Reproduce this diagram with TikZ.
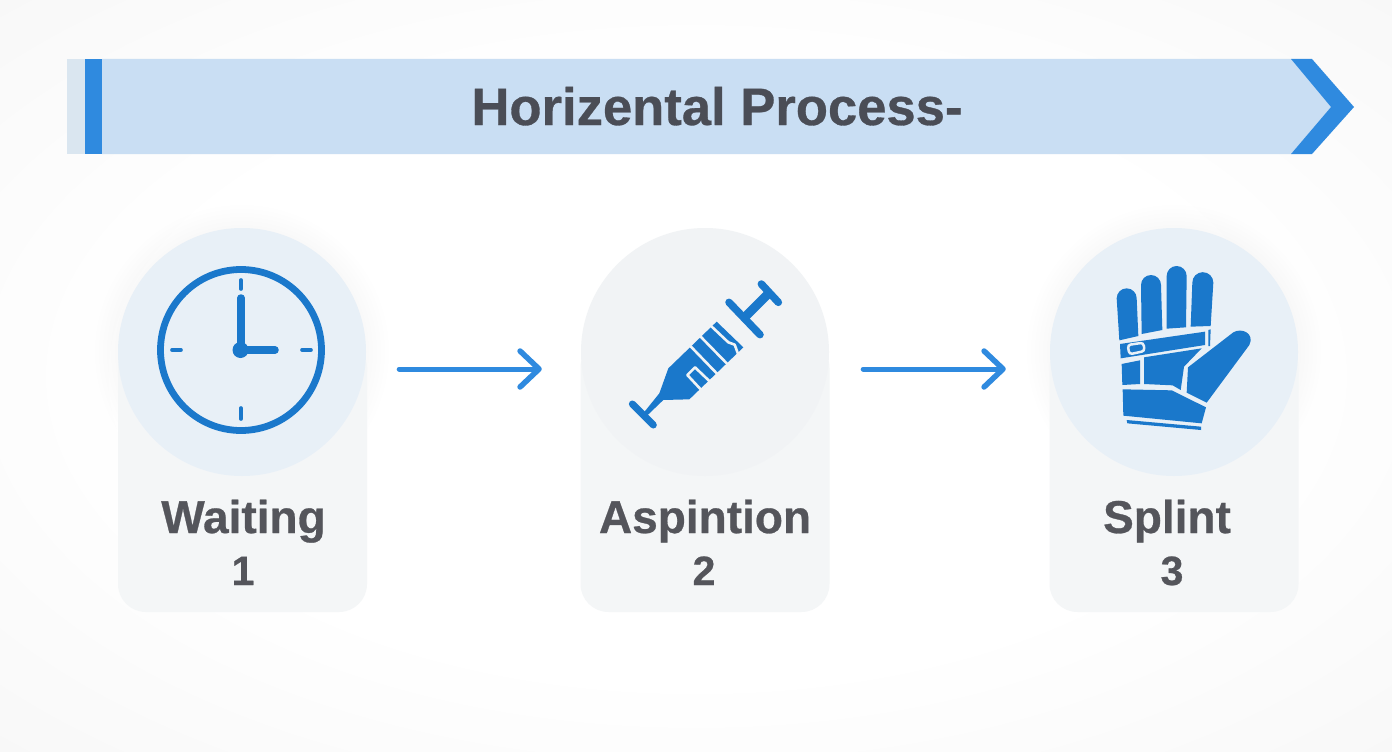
\documentclass[tikz,border=0pt]{standalone}
\usepackage{fontspec}
\setmainfont{Liberation Sans}[BoldFeatures={FakeBold=0.6}]
\usetikzlibrary{arrows.meta}
\definecolor{iconblue}{HTML}{1A78CB}
\definecolor{barblue}{HTML}{2F8ADF}
\definecolor{bannerfill}{HTML}{C9DEF3}
\definecolor{bannerpale}{HTML}{DAE6F0}
\definecolor{titleink}{HTML}{4A4D56}
\definecolor{labelink}{HTML}{54555B}
\definecolor{cardfill}{HTML}{F4F6F7}
\definecolor{discblue}{HTML}{E8F0F7}
\definecolor{discgrey}{HTML}{F1F3F5}
\pgfdeclareradialshading{bgsoft}{\pgfpoint{0bp}{0bp}}{rgb(0bp)=(1,1,1);rgb(20bp)=(1,1,1);rgb(36bp)=(0.972,0.972,0.972);rgb(50bp)=(0.965,0.965,0.965)}
\tikzset{
  x=1pt,y=-1pt,
  cardbox/.style={draw=none,fill=cardfill,rounded corners=28pt,minimum width=249pt,minimum height=272pt,inner sep=0pt},
  disc/.style={circle,draw=none,minimum size=248pt,inner sep=0pt},
  steptext/.style={anchor=base,font=\bfseries\fontsize{46}{50}\selectfont,text=labelink,inner sep=0pt},
  stepnum/.style={anchor=base,font=\bfseries\fontsize{41}{50}\selectfont,text=labelink,inner sep=0pt},
  flow/.style={draw=barblue,line width=5pt,line cap=round,-{Straight Barb[length=19pt,width=36pt,line width=5.5pt,round]}},
  iconline/.style={draw=iconblue,line cap=round},
  zoomed/.style={x=0.33333pt,y=-0.33333pt},
}
\begin{document}
\begin{tikzpicture}
\useasboundingbox (0,0) rectangle (1392,752);
\shade[shading=bgsoft] (0,0) rectangle (1392,752);
% banner
\fill[bannerpale] (67,59) rectangle (85,154);
\fill[bannerfill] (102,59) -- (1291,59) -- (1331,107) -- (1291,154) -- (102,154) -- cycle;
\fill[barblue] (85,59) rectangle (102,154);
\fill[barblue] (1291,59) -- (1312,59) -- (1354,107) -- (1312,154) -- (1291,154) -- (1331,107) -- cycle;
\node[anchor=base,inner sep=0pt,text=titleink,font=\bfseries\fontsize{52.6}{60}\selectfont] (title) at (717,125) {Horizental Process-};
% faint halos
\foreach \hx in {242,1174}{
  \foreach \hr in {127,131,...,147}{
    \fill[black,opacity=.0025] (\hx,352) circle (\hr);
  }
}
% cards
\node[cardbox] (card1) at (242.5,476) {};
\node[cardbox] (card2) at (705,476) {};
\node[cardbox] (card3) at (1174,476) {};
\node[disc,fill=discblue] (disc1) at (242,352) {};
\node[disc,fill=discgrey] (disc2) at (705,352) {};
\node[disc,fill=discblue] (disc3) at (1174,352) {};
% labels
\node[steptext] (lab1) at (243.5,533) {Waiting};
\node[stepnum] (num1) at (243,585) {1};
\node[steptext] (lab2) at (705,533) {Aspintion};
\node[stepnum] (num2) at (704,585) {2};
\node[steptext] (lab3) at (1167,533) {Splint};
\node[stepnum] (num3) at (1172,585) {3};
% connectors
\draw[flow,shorten <=33pt,shorten >=39pt] ([yshift=-17pt]disc1.east) -- ([yshift=-17pt]disc2.west);
\draw[flow,shorten <=34pt,shorten >=44pt] ([yshift=-17pt]disc2.east) -- ([yshift=-17pt]disc3.west);
% clock
\draw[iconline,line width=6.8pt] (241,350) circle (80.5);
\draw[iconline,line width=7.5pt] (241,298) -- (241,350) -- (275,350);
\fill[iconblue] (240.5,350) circle (8);
\draw[iconline,line width=3.6pt] (241,280) -- (241,289);
\draw[iconline,line width=3.6pt] (241,408) -- (241,419);
\draw[iconline,line width=3.6pt] (172,350) -- (181,350);
\draw[iconline,line width=3.6pt] (302,350) -- (311,350);
% syringe (drawn in 3x crop units)
\begin{scope}[shift={(600,260)},zoomed]
\draw[iconline,line width=7.5pt] (484,72) -- (535,127);
\draw[iconline,line width=7.5pt] (387,127) -- (480,224);
\draw[iconline,line width=9pt,line cap=butt] (436,170) -- (508,98);
\draw[iconline,line width=7pt] (97,432) -- (160,495);
\fill[iconblue] (128,462) -- (178,400) -- (205,325) -- (350,185) -- (430,262) -- (268,418) -- (190,420) -- (140,468) -- cycle;
\draw[discgrey,line width=2.6pt] (268,255) -- (352,342);
\draw[discgrey,line width=2.6pt] (298,226) -- (383,313);
\draw[discgrey,line width=2.6pt,line join=round] (330,195) -- (385,247) -- (404,254) -- (415,284);
\draw[discgrey,line width=2.6pt,line join=round] (302,388) -- (262,345) -- (285,322) -- (330,365);
\end{scope}
% glove (drawn in 3x crop units)
\begin{scope}[shift={(1090,250)},zoomed]
\fill[iconblue] (88,271) -- (80,145) arc[start angle=180,end angle=360,radius=30] -- (145,258) -- cycle;
\fill[iconblue] (155,252) -- (153,105) arc[start angle=180,end angle=360,radius=30] -- (217,240) -- cycle;
\fill[iconblue] (230,236) -- (230,78) arc[start angle=180,end angle=360,radius=30] -- (288,232) -- cycle;
\fill[iconblue] (302,230) -- (307,98) arc[start angle=180,end angle=360,radius=31.5] -- (362,228) -- cycle;
\fill[iconblue] (90,282) -- (345,245) -- (345,285) -- (92,325) -- cycle;
\fill[iconblue] (355,240) -- (362,238) -- (360,288) -- (355,288) -- cycle;
\draw[discblue,line width=2.5pt,rounded corners=3pt] (113,285) -- (160,278) -- (164,303) -- (118,313) -- cycle;
\fill[iconblue] (95,342) -- (150,331) -- (150,402) -- (97,405) -- cycle;
\fill[iconblue] (162,322) -- (335,295) -- (282,350) -- (272,420) -- (248,406) -- (162,402) -- cycle;
\fill[iconblue] (290,428) -- (294,352) -- (430,247) .. controls (455,232) and (495,250) .. (478,285) -- (350,458) -- cycle;
\fill[iconblue] (98,418) -- (245,421) -- (348,472) -- (335,520) -- (100,497) -- cycle;
\fill[iconblue] (110,510) -- (333,530) -- (333,540) -- (112,520) -- cycle;
\end{scope}
\end{tikzpicture}
\end{document}
